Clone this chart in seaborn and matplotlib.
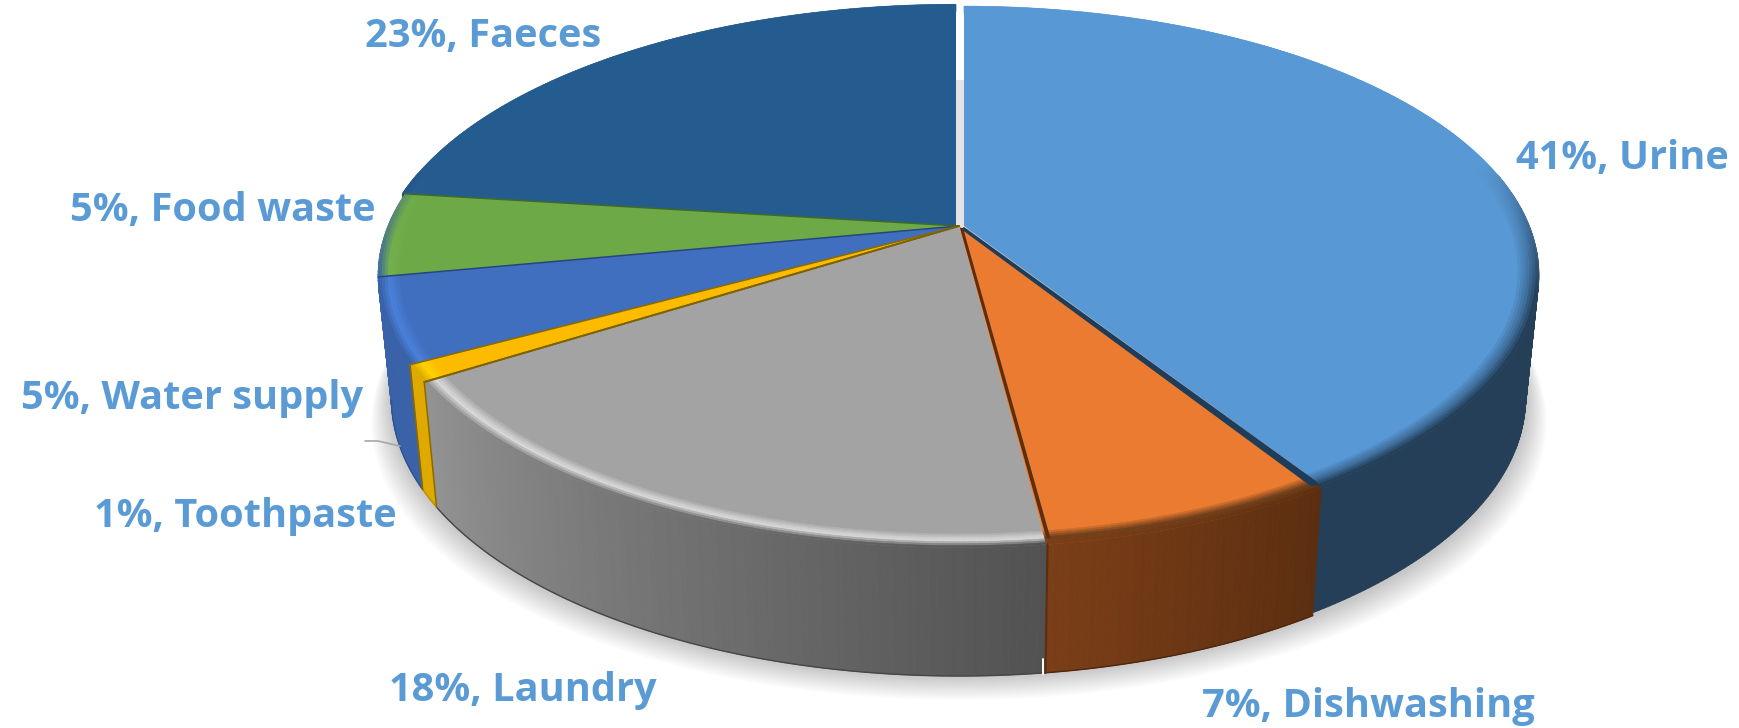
import numpy as np
import matplotlib
matplotlib.use("Agg")
import matplotlib.pyplot as plt
from matplotlib.collections import PolyCollection
from matplotlib.colors import to_rgb
import seaborn as sns

categories = ["Urine", "Dishwashing", "Laundry", "Toothpaste", "Water supply", "Food waste", "Faeces"]
shares = [41, 7, 18, 1, 5, 5, 23]

top_colors = ["#5898d4", "#ea7b30", "#a3a3a3", "#fdbb00", "#406fbf", "#6ea948", "#255c8f"]
rim_colors = ["#3f6f9c", "#70401c", "#dcdcdc", "#ffd400", "#4a82dc", "#76b44c", "#2a659c"]
wall_left = ["#243f57", "#7b3f18", "#939393", "#dfa900", "#3a62a8", "#3a62a8", "#1a4468"]
wall_right = ["#243f57", "#5c2e10", "#525252", "#dfa900", "#3a62a8", "#3a62a8", "#1a4468"]
edge_colors = ["#1f3d58", "#5c2e10", "#7d6200", "#8a6a00", "#27457f", "#3f6a28", "#173a5a"]

label_x = [1622, 1368, 523, 245, 192, 223, 483]
label_y = [159, 706, 691, 516, 398, 211, 36]

# geometry of the tilted disc, in pixels
CX, CY = 959, 226
RX, RY, K = 571, 262.5, 0.1837
SHRINK_X, SHRINK_Y, DEPTH = 0.977, 1.02, 122
shifts = [(5, 0), (0, 0), (0, 0), (0, 0), (0, 0), (0, 0), (-3, 0)]
radius = [0.99, 1, 1, 1, 1, 1, 1]

sns.set_theme(style="white")
plt.rcParams["font.family"] = ["Open Sans", "DejaVu Sans"]
palette = sns.color_palette(top_colors)


def top_xy(theta, r=1.0):
    u, v = r * np.sin(theta), r * np.cos(theta)
    w = 1 + K * v
    return CX + RX * u / w, CY - RY * v / w


def bottom_xy(theta, r=1.0):
    x, y = top_xy(theta, r)
    return CX + SHRINK_X * (x - CX), CY + SHRINK_Y * (y - CY) + DEPTH


def mix(a, b, t):
    a, b = np.array(to_rgb(a)), np.array(to_rgb(b))
    return tuple(a + (b - a) * t)


fig = plt.figure(figsize=(17.39, 7.28), dpi=100)
ax = fig.add_axes([0, 0, 1, 1])
ax.set_xlim(0, 1739)
ax.set_ylim(728, 0)
ax.axis("off")

# soft shadow under the disc
ring = np.linspace(0, 2 * np.pi, 300)
bx, by = bottom_xy(ring)
for grow in np.linspace(32, 2, 14):
    ax.fill(CX + (bx - CX) * (1 + grow / 900), by + grow * 0.75, color="black", alpha=0.014, lw=0)

# gap between faeces and urine shows the shadow, only in its lower part
gx, gy = top_xy(0, 0.62)
ax.fill([CX - 6, CX + 8, CX + 8, CX - 6], [CY + 8, CY + 8, gy, gy], color="#e3e3e3", lw=0, zorder=1)
hx, hy = top_xy(0, 1.05)
ax.fill([CX - 6, CX + 8, CX + 8, CX - 6], [gy, gy, hy, hy], color="white", lw=0, zorder=1)

edges = np.cumsum([0] + shares) / 100 * 2 * np.pi

walls, wall_cols = [], []
for i in range(len(shares)):
    dx, dy = shifts[i]
    rad = radius[i]
    th = np.linspace(edges[i], edges[i + 1], max(4, shares[i] * 6))
    # the urine wall is laid twice so no white shows beside the dishwashing wall
    offsets = [0, dx] if i == 0 else [dx]
    for off in offsets:
        for j in range(len(th) - 1):
            # the back of the disc has no visible wall
            if np.cos(th[j]) > 0.2 and np.cos(th[j + 1]) > 0.2:
                continue
            x1, y1 = top_xy(th[j], rad)
            x2, y2 = top_xy(th[j + 1], rad)
            x3, y3 = bottom_xy(th[j + 1], rad)
            x4, y4 = bottom_xy(th[j], rad)
            walls.append([(x1 + off, y1 + dy), (x2 + off, y2 + dy), (x3 + off, y3 + dy), (x4 + off, y4 + dy)])
            # walls run left to right on the front, angle runs right to left
            wall_cols.append(mix(wall_right[i], wall_left[i], j / (len(th) - 1)))
ax.add_collection(PolyCollection(walls, facecolors=wall_cols, edgecolors=wall_cols, linewidths=0.6))

# dark lower edge of the walls
for i in range(1, 5):
    th = np.linspace(edges[i], edges[i + 1], 60)
    xb, yb = bottom_xy(th)
    ax.plot(xb, yb, color=mix(wall_right[i], "black", 0.15), lw=1.0, zorder=2)

# top faces, urine last because it sits proud of the others
for i in [6, 5, 4, 3, 2, 1, 0]:
    dx, dy = shifts[i]
    rad = radius[i]
    th = np.linspace(edges[i], edges[i + 1], max(6, shares[i] * 8))
    x, y = top_xy(th, rad)
    ax.fill(np.r_[CX, x] + dx, np.r_[CY, y] + dy, color=palette[i], lw=0, zorder=3)

    # bevel round the outer rim
    n = 8
    radii = np.linspace(0.96, 1.0, n + 1) * rad
    quads, cols = [], []
    for k in range(n):
        frac = k / (n - 1)
        for j in range(len(th) - 1):
            a0, a1 = th[j], th[j + 1]
            x1, y1 = top_xy(a0, radii[k])
            x2, y2 = top_xy(a1, radii[k])
            x3, y3 = top_xy(a1, radii[k + 1])
            x4, y4 = top_xy(a0, radii[k + 1])
            quads.append([(x1 + dx, y1 + dy), (x2 + dx, y2 + dy), (x3 + dx, y3 + dy), (x4 + dx, y4 + dy)])
            front = np.clip((0.25 - np.cos(a0)) / 0.5, 0, 1)
            wall = mix(wall_right[i], wall_left[i], j / (len(th) - 1))
            if frac < 0.55:
                col = mix(top_colors[i], rim_colors[i], frac / 0.55)
            else:
                col = mix(rim_colors[i], wall, (frac - 0.55) / 0.45)
            cols.append(mix(top_colors[i], col, front))
    ax.add_collection(PolyCollection(quads, facecolors=cols, edgecolors=cols, linewidths=0.4, zorder=3))

# dark cut faces and slice borders
x_u, y_u = top_xy(edges[1], radius[0])
ax.fill([CX + 5, x_u + 5, x_u - 6, CX + 2], [CY + 1, y_u, y_u + 1, CY + 3],
        color=edge_colors[0], lw=0, zorder=4)
x_d, y_d = top_xy(edges[2])
ax.fill([CX + 1, x_d, x_d + 4, CX + 4], [CY + 2, y_d - 6, y_d - 6, CY + 2], color=edge_colors[1], lw=0, zorder=4)
for i in [2, 3, 4, 5]:
    xe, ye = top_xy(edges[i + 1])
    ax.plot([CX, xe], [CY, ye], color=edge_colors[i], lw=1.1, zorder=4)
xe, ye = top_xy(edges[3])
ax.plot([CX, xe], [CY, ye], color=edge_colors[2], lw=1.4, zorder=4)
for i in [2, 3]:
    xb, yb = bottom_xy(edges[i + 1])
    xe, ye = top_xy(edges[i + 1])
    ax.plot([xe, xb], [ye, yb], color=edge_colors[3], lw=1.1, zorder=4)

# dark left side of the dishwashing wall and the small split at its foot
xb, yb = bottom_xy(edges[2])
ax.plot([x_d + 1, xb + 1], [y_d, yb], color=edge_colors[1], lw=1.6, zorder=4)
ax.plot([xb - 2, xb - 2], [yb - 14, yb + 1], color="white", lw=1.4, zorder=4)

# leader line of the water supply label
ax.plot([365, 378, 400], [441, 441, 446], color="#a6a6a6", lw=1.2, zorder=2)

for i, name in enumerate(categories):
    ax.text(label_x[i], label_y[i], f"{shares[i]}%, {name}", ha="center", va="center",
            fontsize=28.6, fontweight="bold", color="#5b9bd5", zorder=5)

fig.savefig("out.png", dpi=100)
